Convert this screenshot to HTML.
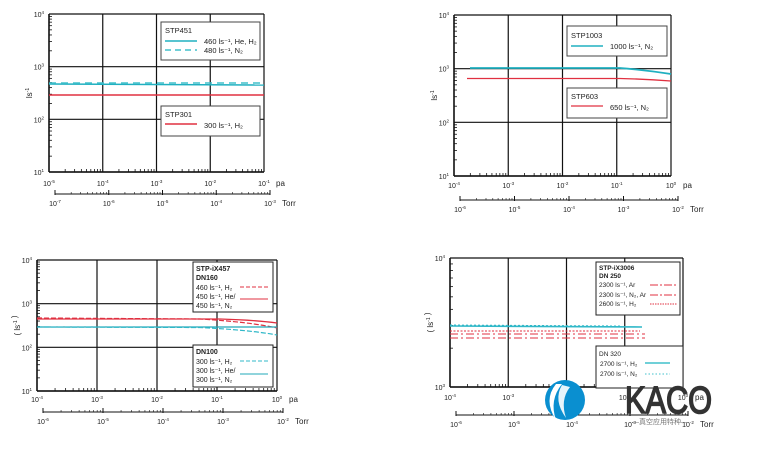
<!DOCTYPE html>
<html><head><meta charset="utf-8"><style>
html,body{margin:0;padding:0;background:#fff;}
svg{display:block;font-family:"Liberation Sans","Noto Sans CJK SC",sans-serif;}
</style></head><body>
<svg id="s" width="757" height="454" viewBox="0 0 757 454" xmlns="http://www.w3.org/2000/svg">
<g id="g"></g>
<line x1="49" y1="84" x2="264" y2="85" stroke="#20b0c0" stroke-width="1.5"/>
<line x1="49" y1="83" x2="264" y2="83" stroke="#40c0cc" stroke-width="1.5" stroke-dasharray="7,5"/>
<line x1="49" y1="95" x2="264" y2="95" stroke="#e03040" stroke-width="1.5"/>
<path d="M470 68 L620 68 Q645 70 671 74" stroke="#20b0c0" stroke-width="1.8" fill="none"/>
<path d="M467 78.5 L620 78.5 Q645 79 671 81" stroke="#e03040" stroke-width="1.3" fill="none"/>
<path d="M37 319 L220 319 Q255 320 277 323" stroke="#e03040" stroke-width="1.3" fill="none"/>
<path d="M37 318 L200 319 Q250 322 277 328" stroke="#e03040" stroke-width="1.2" fill="none" stroke-dasharray="5,2"/>
<path d="M37 327 L277 327" stroke="#20a8b8" stroke-width="1.2" fill="none"/>
<path d="M37 327 L200 327.5 Q250 330 277 335" stroke="#30b8c8" stroke-width="1.2" fill="none" stroke-dasharray="5,2"/>
<line x1="450" y1="326" x2="642" y2="327" stroke="#30b8c8" stroke-width="1.6"/>
<line x1="450" y1="325" x2="620" y2="326" stroke="#30b8c8" stroke-width="1" stroke-dasharray="2,2"/>
<line x1="450" y1="331" x2="640" y2="331" stroke="#e03040" stroke-width="1" stroke-dasharray="2,1.5"/>
<line x1="450" y1="334" x2="645" y2="334" stroke="#e03040" stroke-width="1" stroke-dasharray="8,3,2,3"/>
<line x1="450" y1="338" x2="645" y2="338" stroke="#e03040" stroke-width="1" stroke-dasharray="8,3,2,3"/>
<g font-size="7.5" fill="#222">
<rect x="161" y="22" width="99" height="38" fill="#fff" stroke="#444"/>
<text x="165" y="33" font-size="7.5">STP451</text>
<line x1="165" y1="41" x2="197" y2="41" stroke="#20b0c0" stroke-width="1.5"/>
<line x1="165" y1="50" x2="197" y2="50" stroke="#40c0cc" stroke-width="1.5" stroke-dasharray="6,4"/>
<text x="204" y="44">460 ls⁻¹, He, H₂</text><text x="204" y="53">480 ls⁻¹, N₂</text>
<rect x="161" y="106" width="99" height="30" fill="#fff" stroke="#444"/>
<text x="165" y="117">STP301</text>
<line x1="165" y1="124" x2="197" y2="124" stroke="#e03040" stroke-width="1.5"/>
<text x="204" y="128">300 ls⁻¹, H₂</text>
<rect x="567" y="26" width="100" height="30" fill="#fff" stroke="#444"/>
<text x="571" y="38">STP1003</text>
<line x1="571" y1="46" x2="603" y2="46" stroke="#20b0c0" stroke-width="1.5"/>
<text x="610" y="49">1000 ls⁻¹, N₂</text>
<rect x="567" y="88" width="100" height="30" fill="#fff" stroke="#444"/>
<text x="571" y="99">STP603</text>
<line x1="571" y1="106" x2="603" y2="106" stroke="#e03040" stroke-width="1.3"/>
<text x="610" y="110">650 ls⁻¹, N₂</text>
<rect x="193" y="262" width="80" height="50" fill="#fff" stroke="#222"/>
<text x="196" y="271" font-weight="bold" font-size="7">STP-iX457</text>
<text x="196" y="280" font-weight="bold" font-size="7">DN160</text>
<text x="196" y="290" font-size="7">460 ls⁻¹, H₂</text>
<text x="196" y="299" font-size="7">450 ls⁻¹, He/</text>
<text x="196" y="308" font-size="7">450 ls⁻¹, N₂</text>
<line x1="240" y1="287" x2="268" y2="287" stroke="#e03040" stroke-dasharray="4,2"/>
<line x1="240" y1="299" x2="268" y2="299" stroke="#e03040"/>
<rect x="193" y="345" width="80" height="42" fill="#fff" stroke="#222"/>
<text x="196" y="354" font-weight="bold" font-size="7">DN100</text>
<text x="196" y="364" font-size="7">300 ls⁻¹, H₂</text>
<text x="196" y="373" font-size="7">300 ls⁻¹, He/</text>
<text x="196" y="382" font-size="7">300 ls⁻¹, N₂</text>
<line x1="240" y1="361" x2="268" y2="361" stroke="#30b8c8" stroke-dasharray="4,2"/>
<line x1="240" y1="374" x2="268" y2="374" stroke="#20a8b8"/>
<rect x="596" y="262" width="84" height="53" fill="#fff" stroke="#222"/>
<text x="599" y="270" font-weight="bold" font-size="6.5">STP-iX3006</text>
<text x="599" y="278" font-weight="bold" font-size="6.5">DN 250</text>
<text x="599" y="287" font-size="6.5">2300 ls⁻¹, Ar</text>
<text x="599" y="297" font-size="6.5">2300 ls⁻¹, N₂, Ar</text>
<text x="599" y="306" font-size="6.5">2600 ls⁻¹, H₂</text>
<line x1="650" y1="285" x2="677" y2="285" stroke="#e03040" stroke-dasharray="8,2,2,2"/>
<line x1="650" y1="295" x2="677" y2="295" stroke="#e03040" stroke-dasharray="8,2,2,2"/>
<line x1="650" y1="304" x2="677" y2="304" stroke="#e03040" stroke-dasharray="1.5,1"/>
<rect x="596" y="346" width="87" height="42" fill="#fff" stroke="#222"/>
<text x="599" y="356" font-size="6.5">DN 320</text>
<text x="600" y="366" font-size="6.5">2700 ls⁻¹, H₂</text>
<text x="600" y="376" font-size="6.5">2700 ls⁻¹, N₂</text>
<line x1="645" y1="363" x2="670" y2="363" stroke="#40c0cc" stroke-width="1.6"/>
<line x1="645" y1="374" x2="670" y2="374" stroke="#40c0cc" stroke-dasharray="1.5,2"/>
</g>
<circle cx="565" cy="400" r="20" fill="#0a8fd0"/>
<path d="M556 384 Q543 400 556 420 Q549 400 562 384Z" fill="#fff"/>
<path d="M562 385 Q553 400 566 418 Q560 400 570 387Z" fill="#fff" opacity="0.9"/>
<text x="625" y="413" font-size="38" fill="#333" stroke="#333" stroke-width="1.6" textLength="87" lengthAdjust="spacingAndGlyphs">KACO</text>
<text x="632" y="424" font-size="7" fill="#777">—真空应用特种—</text>
</svg>
<script>
const g=document.getElementById('g');let h='';
function L(x1,y1,x2,y2,w,c){h+=`<line x1="${x1}" y1="${y1}" x2="${x2}" y2="${y2}" stroke="${c||'#111'}" stroke-width="${w||1}"/>`;}
function T(x,y,t,s,a){h+=`<text x="${x}" y="${y}" font-size="${s||7}" text-anchor="${a||'middle'}" fill="#222">${t}</text>`;}
function sup(b,e){return `10<tspan dy="-3" font-size="4.5">${e}</tspan>`;}
function chart(c){
 const {x0,x1,y0,y1,ndx,ndy,pe,te,ylab,taxX0,taxX1,taxY,paY,ye}=c;
 const dx=(x1-x0)/ndx, dy=(y1-y0)/ndy;
 for(let i=0;i<=ndx;i++){L(x0+i*dx,y0,x0+i*dx,y1,1.2);}
 for(let j=0;j<=ndy;j++){L(x0,y0+j*dy,x1,y0+j*dy,1.2);}
 L(x0,y0,x0,y1,1.5);L(x0,y1,x1,y1,1.5);
 const lg=[0.301,0.477,0.602,0.699,0.778,0.845,0.903,0.954];
 for(let i=0;i<ndx;i++)for(const v of lg){const x=x0+i*dx+v*dx;L(x,y1,x,y1-3,0.8);}
 for(let j=0;j<ndy;j++)for(const v of lg){const y=y1-j*dy-v*dy;L(x0,y,x0+3,y,0.8);}
 for(let i=0;i<=ndx;i++)T(x0+i*dx,paY,sup(10,pe[i]),7);
 T(x1+12,paY,'pa',8,'start');
 for(let j=0;j<=ndy;j++)T(x0-5,y1-j*dy+3,sup(10,ye[j]),7,'end');
 L(taxX0,taxY,taxX1,taxY,1);
 const tdx=(taxX1-taxX0)/ndx;
 for(let i=0;i<=ndx;i++){L(taxX0+i*tdx,taxY-4,taxX0+i*tdx,taxY+1,1);T(taxX0+i*tdx,taxY+12,sup(10,te[i]),7);}
 for(let i=0;i<ndx;i++)for(const v of lg){const x=taxX0+i*tdx+v*tdx;L(x,taxY,x,taxY-2,0.6);}
 T(taxX1+12,taxY+12,'Torr',8,'start');
 h+=`<text x="${x0-17}" y="${(y0+y1)/2}" font-size="8" text-anchor="middle" fill="#222" transform="rotate(-90 ${x0-17} ${(y0+y1)/2})">${ylab}</text>`;
}
chart({x0:49,x1:264,y0:14,y1:172,ndx:4,ndy:3,pe:['-5','-4','-3','-2','-1'],te:['-7','-6','-5','-4','-3'],ye:['1','2','3','4'],ylab:'ls<tspan dy="-3" font-size="5">-1</tspan>',taxX0:55,taxX1:270,taxY:194,paY:186});
chart({x0:454,x1:671,y0:15,y1:176,ndx:4,ndy:3,pe:['-4','-3','-2','-1','0'],te:['-6','-5','-4','-3','-2'],ye:['1','2','3','4'],ylab:'ls<tspan dy="-3" font-size="5">-1</tspan>',taxX0:460,taxX1:678,taxY:200,paY:188});
chart({x0:37,x1:277,y0:260,y1:391,ndx:4,ndy:3,pe:['-4','-3','-2','-1','0'],te:['-6','-5','-4','-3','-2'],ye:['1','2','3','4'],ylab:'( ls<tspan dy="-3" font-size="5">-1</tspan> )',taxX0:43,taxX1:283,taxY:412,paY:402});
chart({x0:450,x1:683,y0:258,y1:387,ndx:4,ndy:1,pe:['-4','-3','-2','-1','0'],te:['-6','-5','-4','-3','-2'],ye:['3','4'],ylab:'( ls<tspan dy="-3" font-size="5">-1</tspan> )',taxX0:456,taxX1:688,taxY:415,paY:400});
g.innerHTML=h;
</script>
</body></html>
